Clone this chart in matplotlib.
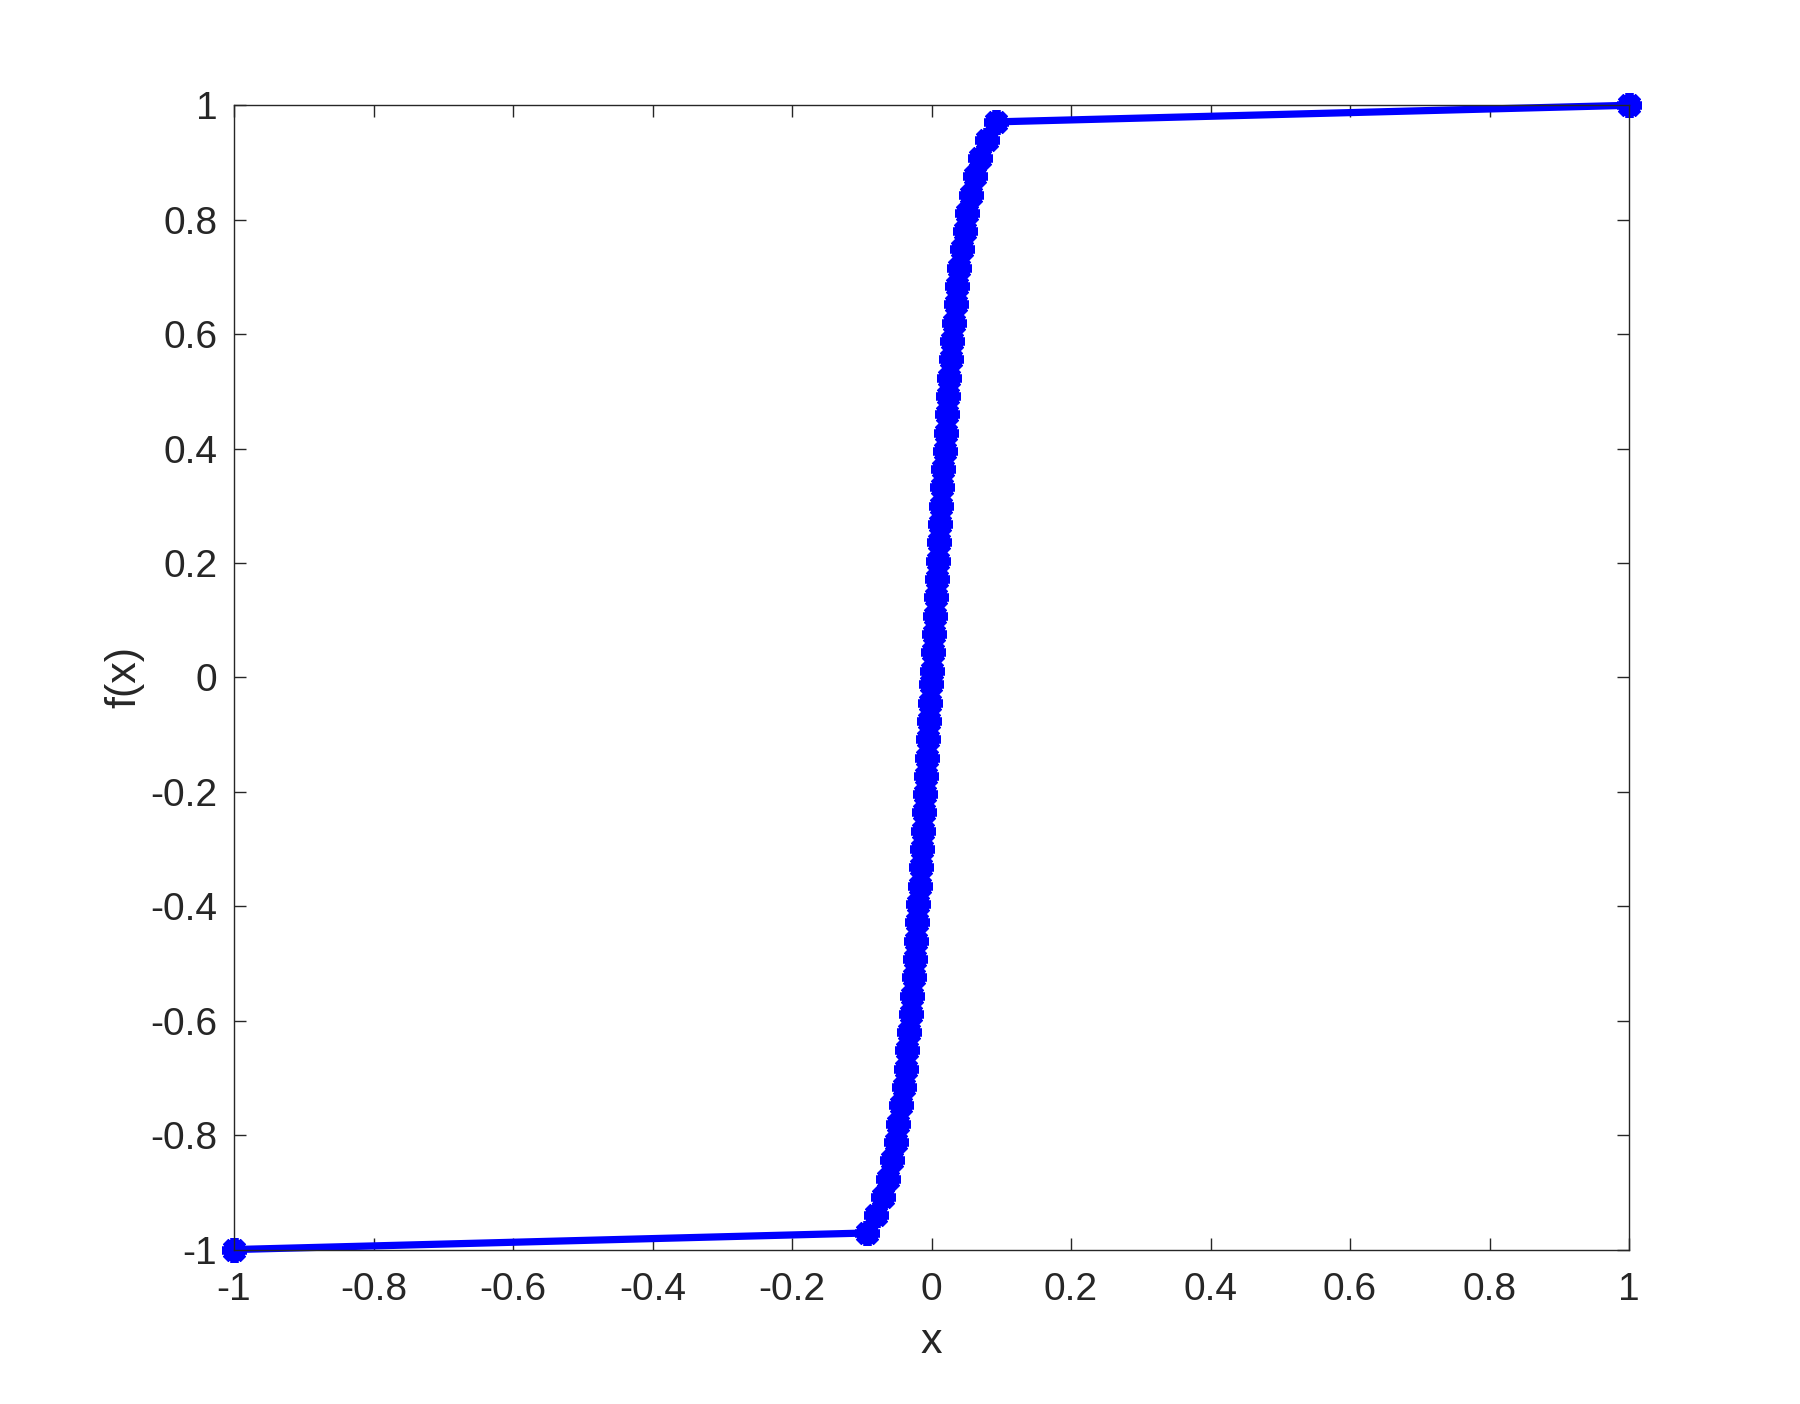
import matplotlib.pyplot as plt

# points (f(x) vs x)
y_half = [0.012, 0.044, 0.076, 0.108, 0.140, 0.172, 0.204, 0.236, 0.268, 0.300,
          0.332, 0.364, 0.396, 0.428, 0.460, 0.492, 0.524, 0.556, 0.588, 0.620,
          0.652, 0.684, 0.716, 0.748, 0.780, 0.812, 0.844, 0.876, 0.908, 0.940, 0.971]
x_half = [0.0005, 0.0020, 0.0034, 0.0049, 0.0063, 0.0078, 0.0093, 0.0108, 0.0124, 0.0139,
          0.0155, 0.0172, 0.0189, 0.0206, 0.0224, 0.0240, 0.0255, 0.0275, 0.0295, 0.0320,
          0.0345, 0.0370, 0.0400, 0.0436, 0.0475, 0.0510, 0.0560, 0.0620, 0.0690, 0.0790, 0.0920]

x_pts = [-1.0] + [-v for v in x_half[::-1]] + x_half + [1.0]
y_pts = [-1.0] + [-v for v in y_half[::-1]] + y_half + [1.0]

x_ticks = [-1, -0.8, -0.6, -0.4, -0.2, 0, 0.2, 0.4, 0.6, 0.8, 1]
y_ticks = [-1, -0.8, -0.6, -0.4, -0.2, 0, 0.2, 0.4, 0.6, 0.8, 1]
tick_text = ['-1', '-0.8', '-0.6', '-0.4', '-0.2', '0', '0.2', '0.4', '0.6', '0.8', '1']

plt.rcParams['font.family'] = ['Liberation Sans', 'DejaVu Sans']
dark = '#262626'

fig = plt.figure(figsize=(9, 7.02), dpi=200)
ax = fig.add_axes([0.13, 0.11, 0.775, 0.815])

ax.plot(x_pts, y_pts, color='#0000ff', linewidth=2.6,
        marker=(8, 2, 0), markersize=9, markeredgewidth=2.8, clip_on=False)

ax.set_xlim(-1, 1)
ax.set_ylim(-1, 1)
ax.set_xticks(x_ticks)
ax.set_yticks(y_ticks)
ax.set_xticklabels(tick_text)
ax.set_yticklabels(tick_text)
ax.tick_params(direction='in', length=4.3, width=0.5, colors=dark,
               labelsize=14, top=True, right=True)
ax.tick_params(axis='x', pad=8)
ax.tick_params(axis='y', pad=6)
for s in ax.spines.values():
    s.set_linewidth(0.5)
    s.set_color(dark)

ax.set_xlabel('x', fontsize=15.5, color=dark, labelpad=5)
ax.set_ylabel('f(x)', fontsize=15.5, color=dark, labelpad=2)

fig.savefig('out.png', dpi=200)
